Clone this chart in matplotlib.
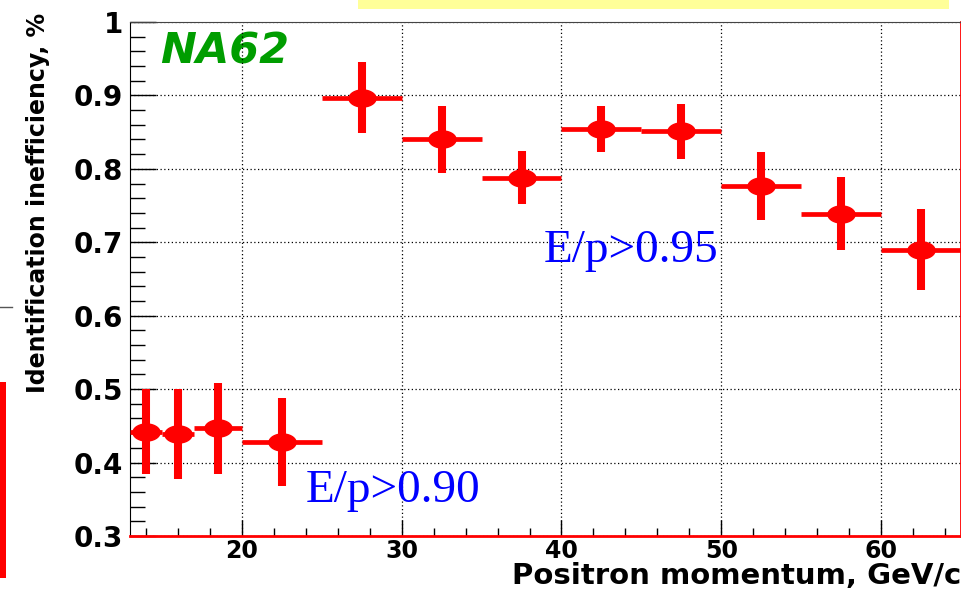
import numpy as np
import matplotlib.pyplot as plt
from matplotlib.path import Path
from matplotlib.patches import Rectangle
from matplotlib.lines import Line2D
from matplotlib.ticker import MultipleLocator, FuncFormatter

# momentum bins, GeV/c
p_center = [14, 16, 18.5, 22.5, 27.5, 32.5, 37.5, 42.5, 47.5, 52.5, 57.5, 62.5]
p_halfw = [1, 1, 1.5, 2.5, 2.5, 2.5, 2.5, 2.5, 2.5, 2.5, 2.5, 2.5]
# identification inefficiency, %
ineff = [0.442, 0.439, 0.447, 0.428, 0.897, 0.840, 0.788, 0.854, 0.851, 0.777, 0.739, 0.690]
ineff_err = [0.058, 0.061, 0.062, 0.060, 0.048, 0.046, 0.036, 0.031, 0.037, 0.046, 0.050, 0.055]

fig = plt.figure(figsize=(9.62, 5.91), dpi=100)
ax = fig.add_axes([0.1351, 0.0931, 0.8639, 0.8697])

# stretched ROOT style marker (ellipse)
t = np.linspace(0, 2 * np.pi, 60)
ell = Path(np.column_stack([np.cos(t), 0.63 * np.sin(t)]), closed=True)

ax.errorbar(p_center, ineff, xerr=p_halfw, fmt='none', ecolor='red', elinewidth=3.4, capsize=0, zorder=3)
ax.errorbar(p_center, ineff, yerr=ineff_err, fmt='none', ecolor='red', elinewidth=5.8, capsize=0, zorder=3)
ax.plot(p_center, ineff, linestyle='none', marker=ell, markersize=19.5, color='red', zorder=4)

ax.set_xlim(13, 65)
ax.set_ylim(0.3, 1.0)

ax.xaxis.set_major_locator(MultipleLocator(10))
ax.xaxis.set_minor_locator(MultipleLocator(2))
ax.yaxis.set_major_locator(MultipleLocator(0.1))
ax.yaxis.set_minor_locator(MultipleLocator(0.02))
ax.yaxis.set_major_formatter(FuncFormatter(lambda v, pos: '1' if abs(v - 1) < 1e-6 else '%.1f' % v))

ax.tick_params(axis='both', which='both', direction='in', top=False, right=False, width=1)
ax.tick_params(axis='y', which='major', length=19, pad=5)
ax.tick_params(axis='y', which='minor', length=11)
ax.tick_params(axis='x', which='major', length=11.5, pad=2)
ax.tick_params(axis='x', which='minor', length=5.5)
for lab in ax.get_yticklabels():
    lab.set_fontfamily('DejaVu Sans')
    lab.set_fontweight('bold')
    lab.set_fontsize(20)
for lab in ax.get_xticklabels():
    lab.set_fontfamily('DejaVu Sans')
    lab.set_fontweight('bold')
    lab.set_fontsize(17)

ax.grid(True, which='major', color='black', linestyle=(0, (1, 2)), linewidth=0.9, zorder=1)
ax.set_axisbelow(True)

ax.spines['top'].set_color('#444444')
ax.spines['left'].set_color('black')
ax.spines['right'].set_color('red')
ax.spines['right'].set_linewidth(2)
ax.spines['bottom'].set_color('red')
ax.spines['bottom'].set_linewidth(2)

ax.set_xlabel('Positron momentum, GeV/c', fontfamily='DejaVu Sans', fontweight='bold', fontsize=21,
              ha='right', va='baseline')
ax.xaxis.set_label_coords(1.0, -0.093)
ax.set_ylabel('Identification inefficiency, %', fontfamily='DejaVu Sans', fontweight='bold', fontsize=17,
              ha='center', va='center')
ax.yaxis.set_label_coords(-0.111, 0.648)

ax.text(14.875, 0.944, 'NA62', color='#009d00', fontfamily='DejaVu Sans', fontweight='bold',
        fontstyle='oblique', fontsize=31, va='baseline', ha='left', zorder=0)
ax.text(38.9, 0.673, 'E/p>0.95', color='blue', fontfamily='Liberation Serif', fontsize=34,
        va='baseline', ha='left', zorder=5)
ax.text(24.0, 0.3465, 'E/p>0.90', color='blue', fontfamily='Liberation Serif', fontsize=34,
        va='baseline', ha='left', zorder=5)

# slide leftovers around the plot
fig.patches.append(Rectangle((0.372, 0.9848), 0.615, 0.0152, transform=fig.transFigure,
                             facecolor='#ffff99', edgecolor='none'))
fig.patches.append(Rectangle((0.0, 0.022), 0.0062, 0.332, transform=fig.transFigure,
                             facecolor='red', edgecolor='none'))
fig.lines.append(Line2D([0.0, 0.0125], [0.4805, 0.4805], transform=fig.transFigure, color='#555555', lw=1))

fig.savefig('out.png', dpi=100)
